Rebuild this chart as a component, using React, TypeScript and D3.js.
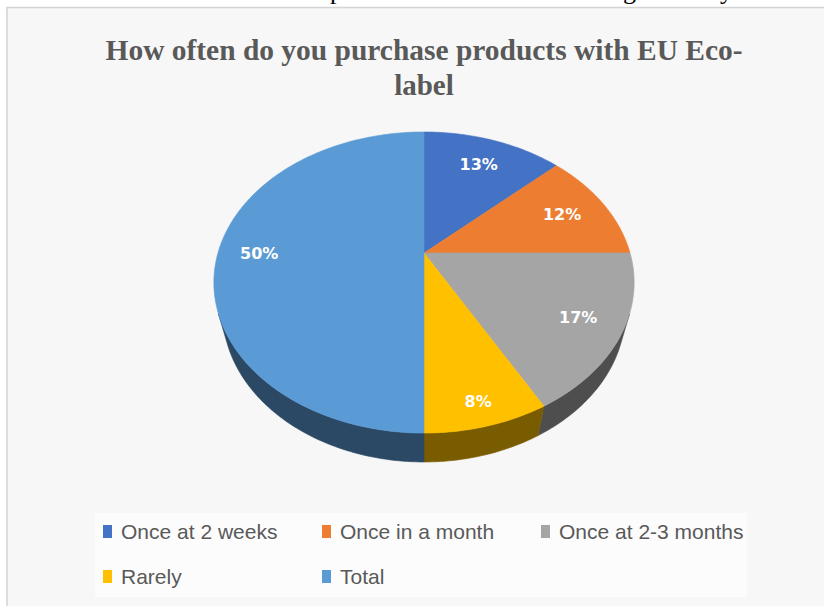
import React from "react";
import * as d3 from "d3";

const categories = ["Once at 2 weeks", "Once in a month", "Once at 2-3 months", "Rarely", "Total"];
const values = [13, 12, 17, 8, 50];
const colors = ["#4472C4", "#ED7D31", "#A5A5A5", "#FFC000", "#5B9BD5"];
const titleLines = ["How often do you purchase products with EU Eco-", "label"];

const W = 824;
const H = 606;
const cx = 424;
const cy = 253;
const F = 748;
const D = 3.63;
const sinE = 0.7025;
const cosE = 0.7117;
const thick = 0.219;

function project(x: number, y: number, z: number): [number, number] {
  const depth = y * cosE - z * sinE + D;
  const up = y * sinE + z * cosE;
  return [cx + (F * x) / depth, cy - (F * up) / depth];
}
function rim(phi: number, r: number, z: number): [number, number] {
  return project(r * Math.sin(phi), r * Math.cos(phi), z);
}
function arcPts(a0: number, a1: number, z: number): [number, number][] {
  const n = Math.max(2, Math.ceil(((a1 - a0) * 180) / Math.PI));
  const pts: [number, number][] = [];
  for (let i = 0; i <= n; i++) pts.push(rim(a0 + ((a1 - a0) * i) / n, 1, z));
  return pts;
}
const line = d3.line();

export default function App() {
  const pie = d3.pie<number>().sort(null).value((d) => d);
  const arcs = pie(values);
  const visLo = Math.acos(-1 / (D * cosE));
  const visHi = 2 * Math.PI - visLo;

  const walls = arcs.map((a, i) => {
    const a0 = Math.max(a.startAngle, visLo);
    const a1 = Math.min(a.endAngle, visHi);
    if (a1 <= a0) return null;
    const top = arcPts(a0, a1, 0);
    const bot = arcPts(a0, a1, -thick).reverse();
    const c = d3.color(colors[i])!.darker(2.1).formatHex();
    return <path key={"w" + i} d={line([...top, ...bot])! + "Z"} fill={c} stroke={c} strokeWidth={0.6} />;
  });

  const tops = arcs.map((a, i) => {
    const pts = [project(0, 0, 0), ...arcPts(a.startAngle, a.endAngle, 0)];
    return <path key={"t" + i} d={line(pts)! + "Z"} fill={colors[i]} stroke={colors[i]} strokeWidth={0.6} />;
  });

  const labelR = [0.76, 0.76, 0.8, 0.88, 0.8];
  const labels = arcs.map((a, i) => {
    const mid = (a.startAngle + a.endAngle) / 2;
    const [x, y] = rim(mid, labelR[i], 0);
    const pct = Math.round((values[i] / d3.sum(values)) * 100) + "%";
    return (
      <text key={"l" + i} x={x} y={y} dy="0.35em" textAnchor="middle" fill="#ffffff"
        fontFamily="DejaVu Sans" fontWeight="bold" fontSize={16}>{pct}</text>
    );
  });

  const legendPos: [number, number][] = [[103, 532], [322, 532], [541, 532], [103, 577], [322, 577]];
  const legend = categories.map((c, i) => (
    <g key={"g" + i} transform={`translate(${legendPos[i][0]},${legendPos[i][1]})`}>
      <rect x={0} y={-7} width={9} height={13} fill={colors[i]} />
      <text x={18} y={0} dy="0.35em" fill="#595959" fontFamily="Liberation Sans Narrow, Liberation Sans"
        fontSize={21}>{c}</text>
    </g>
  ));

  return (
    <svg width={W} height={H} style={{ position: "absolute", left: 0, top: 0 }}>
      <defs>
        <clipPath id="topclip"><rect x={0} y={0} width={W} height={7} /></clipPath>
      </defs>
      <rect x={0} y={0} width={W} height={H} fill="#ffffff" />
      <g clipPath="url(#topclip)" fontFamily="Liberation Serif" fontSize={26} fill="#000">
        <text x={330} y={-1}>p</text>
        <text x={623} y={-1}>g</text>
        <text x={720} y={-1}>y</text>
      </g>
      <rect x={7} y={7.5} width={W} height={H} fill="#f7f7f7" stroke="#d4d4d4" strokeWidth={1.5} />
      <rect x={95} y={513} width={652} height={84} fill="#fcfcfc" />
      {titleLines.map((t, i) => (
        <text key={"tt" + i} x={424} y={60 + i * 35} textAnchor="middle" fill="#595959"
          fontFamily="Liberation Serif" fontWeight="bold" fontSize={29}
          textLength={i === 0 ? 637 : undefined} lengthAdjust="spacingAndGlyphs">{t}</text>
      ))}
      {walls}
      {tops}
      {labels}
      {legend}
    </svg>
  );
}
